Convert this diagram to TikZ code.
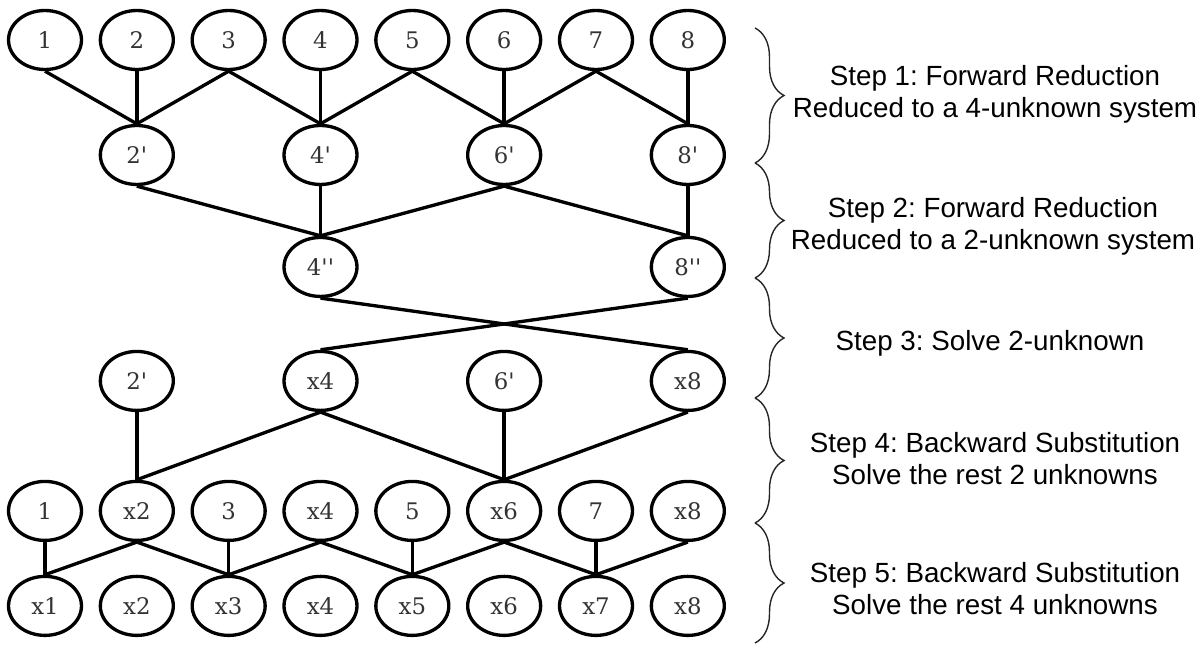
\documentclass[tikz,border=0pt]{standalone}
\usepackage{fontspec}
\setmainfont{Liberation Sans}
\newfontfamily\nodefont{DejaVu Serif}
\usetikzlibrary{shapes,decorations.pathreplacing}
\tikzstyle{unk} = [ellipse, draw, line width=1.9pt, minimum width=1.46cm,
    minimum height=1.18cm, inner sep=0pt, text=black!80,
    font=\nodefont\fontsize{13}{15}\selectfont]
\tikzstyle{link} = [draw, line width=1.9pt]
\tikzstyle{stage} = [draw=black!85, line width=0.8pt, decorate,
    decoration={brace, amplitude=0.58cm}]
\tikzstyle{note} = [align=center, font=\fontsize{15.8}{18.2}\selectfont]
\newcommand{\pr}{\textquotesingle}
\frenchspacing

\begin{document}
\begin{tikzpicture}[x=0.02cm, y=-0.02cm, node distance = 1.837cm]
			\useasboundingbox (0,0) rectangle (1200,667);
			% Place nodes
			\node [unk] at (45,40) (o1) {1};
			\node [unk, right of=o1] (o2) {2};
			\node [unk, right of=o2] (o3) {3};
			\node [unk, right of=o3] (o4) {4};
			\node [unk, right of=o4] (o5) {5};
			\node [unk, right of=o5] (o6) {6};
			\node [unk, right of=o6] (o7) {7};
			\node [unk, right of=o7] (o8) {8};
			\node [unk, below of=o2, node distance=2.3cm] (p2) {2\pr};
			\node [unk, below of=o4, node distance=2.3cm] (p4) {4\pr};
			\node [unk, below of=o6, node distance=2.3cm] (p6) {6\pr};
			\node [unk, below of=o8, node distance=2.3cm] (p8) {8\pr};
			\node [unk, below of=p4, node distance=2.24cm] (q4) {4\pr\pr};
			\node [unk, below of=p8, node distance=2.24cm] (q8) {8\pr\pr};
			\node [unk, below of=p2, node distance=4.52cm] (s2) {2\pr};
			\node [unk, below of=q4, node distance=2.28cm] (s4) {x4};
			\node [unk, below of=p6, node distance=4.52cm] (s6) {6\pr};
			\node [unk, below of=q8, node distance=2.28cm] (s8) {x8};
			\node [unk, below of=s2, node distance=2.6cm] (b2) {x2};
			\node [unk, left of=b2] (b1) {1};
			\node [unk, right of=b2] (b3) {3};
			\node [unk, right of=b3] (b4) {x4};
			\node [unk, right of=b4] (b5) {5};
			\node [unk, right of=b5] (b6) {x6};
			\node [unk, right of=b6] (b7) {7};
			\node [unk, right of=b7] (b8) {x8};
			\node [unk, below of=b1, node distance=1.9cm] (x1) {x1};
			\node [unk, right of=x1] (x2) {x2};
			\node [unk, right of=x2] (x3) {x3};
			\node [unk, right of=x3] (x4) {x4};
			\node [unk, right of=x4] (x5) {x5};
			\node [unk, right of=x5] (x6) {x6};
			\node [unk, right of=x6] (x7) {x7};
			\node [unk, right of=x7] (x8) {x8};
			% Draw edges
			\path [link] (o1.south) -- (p2.north);
			\path [link] (o2.south) -- (p2.north);
			\path [link] (o3.south) -- (p2.north);
			\path [link] (o3.south) -- (p4.north);
			\path [link] (o4.south) -- (p4.north);
			\path [link] (o5.south) -- (p4.north);
			\path [link] (o5.south) -- (p6.north);
			\path [link] (o6.south) -- (p6.north);
			\path [link] (o7.south) -- (p6.north);
			\path [link] (o7.south) -- (p8.north);
			\path [link] (o8.south) -- (p8.north);
			\path [link] (p2.south) -- (q4.north);
			\path [link] (p4.south) -- (q4.north);
			\path [link] (p6.south) -- (q4.north);
			\path [link] (p6.south) -- (q8.north);
			\path [link] (p8.south) -- (q8.north);
			\path [link] (q4.south) -- (s8.north);
			\path [link] (q8.south) -- (s4.north);
			\path [link] (s2.south) -- (b2.north);
			\path [link] (s4.south) -- (b2.north);
			\path [link] (s4.south) -- (b6.north);
			\path [link] (s6.south) -- (b6.north);
			\path [link] (s8.south) -- (b6.north);
			\path [link] (b1.south) -- (x1.north);
			\path [link] (b2.south) -- (x1.north);
			\path [link] (b2.south) -- (x3.north);
			\path [link] (b3.south) -- (x3.north);
			\path [link] (b4.south) -- (x3.north);
			\path [link] (b4.south) -- (x5.north);
			\path [link] (b5.south) -- (x5.north);
			\path [link] (b6.south) -- (x5.north);
			\path [link] (b6.south) -- (x7.north);
			\path [link] (b7.south) -- (x7.north);
			\path [link] (b8.south) -- (x7.north);
			% Steps
			\draw [stage] (755,28) -- (755,163);
			\draw [stage] (755,163) -- (755,278);
			\draw [stage] (755,278) -- (755,398);
			\draw [stage] (755,398) -- (755,523);
			\draw [stage] (755,523) -- (755,643);
			\node [note] at (995,94) (step1) {Step 1: Forward Reduction\\Reduced to a 4-unknown system};
			\node [note] at (993,226) (step2) {Step 2: Forward Reduction\\Reduced to a 2-unknown system};
			\node [note] at (990,343) (step3) {Step 3: Solve 2-unknown};
			\node [note] at (995,459) (step4) {Step 4: Backward Substitution\\Solve the rest 2 unknowns};
			\node [note] at (995,589) (step5) {Step 5: Backward Substitution\\Solve the rest 4 unknowns};
	\end{tikzpicture}
\end{document}
